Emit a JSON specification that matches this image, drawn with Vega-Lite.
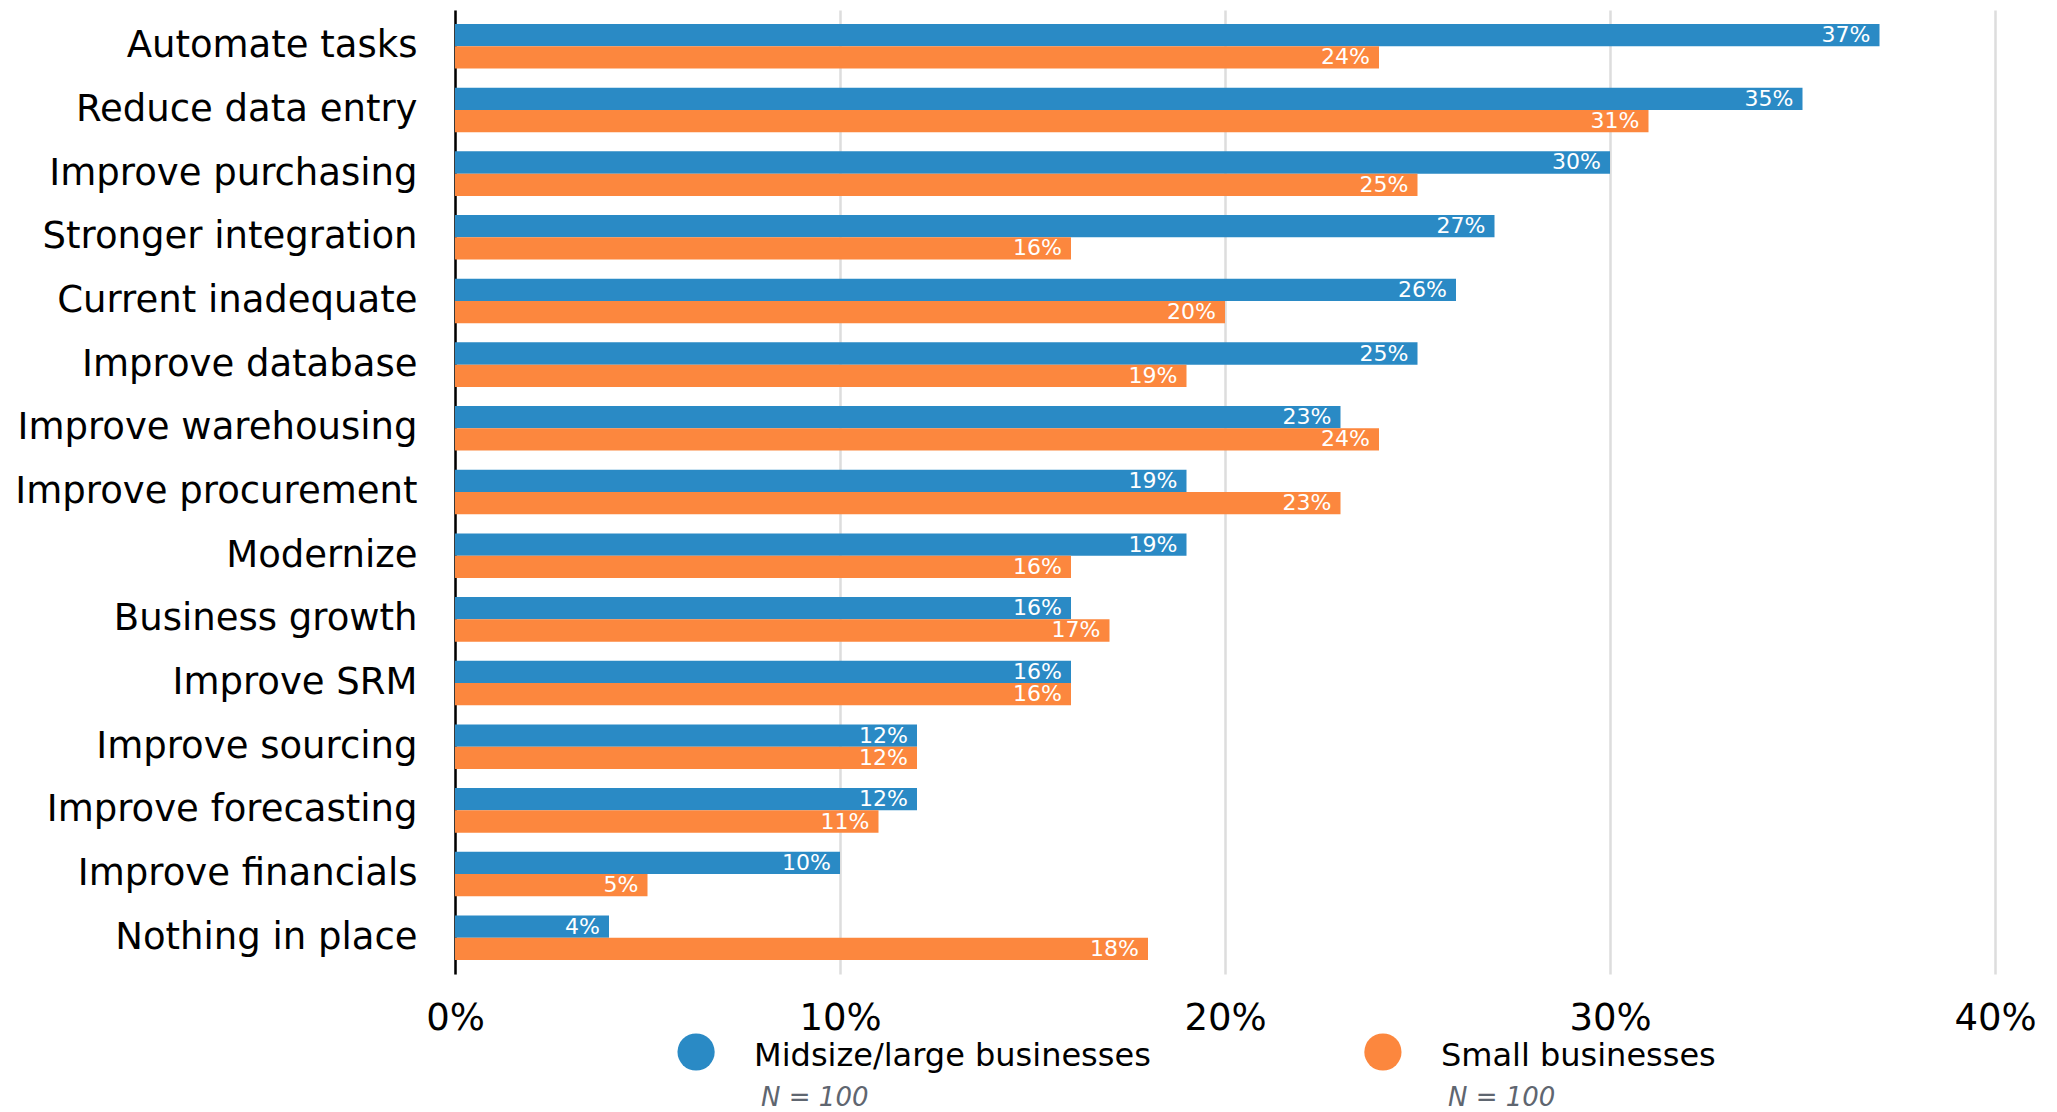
{
  "$schema": "https://vega.github.io/schema/vega-lite/v6.json",
  "padding": {"left": 14, "top": 10, "right": 10, "bottom": 0},
  "spacing": 38,
  "bounds": "flush",
  "config": {"view": {"stroke": null}, "font": "DejaVu Sans"},
  "datasets": {
    "bars": [
      {"reason": "Automate tasks", "group": "Midsize/large businesses", "value": 0.37},
      {"reason": "Automate tasks", "group": "Small businesses", "value": 0.24},
      {"reason": "Reduce data entry", "group": "Midsize/large businesses", "value": 0.35},
      {"reason": "Reduce data entry", "group": "Small businesses", "value": 0.31},
      {"reason": "Improve purchasing", "group": "Midsize/large businesses", "value": 0.30},
      {"reason": "Improve purchasing", "group": "Small businesses", "value": 0.25},
      {"reason": "Stronger integration", "group": "Midsize/large businesses", "value": 0.27},
      {"reason": "Stronger integration", "group": "Small businesses", "value": 0.16},
      {"reason": "Current inadequate", "group": "Midsize/large businesses", "value": 0.26},
      {"reason": "Current inadequate", "group": "Small businesses", "value": 0.20},
      {"reason": "Improve database", "group": "Midsize/large businesses", "value": 0.25},
      {"reason": "Improve database", "group": "Small businesses", "value": 0.19},
      {"reason": "Improve warehousing", "group": "Midsize/large businesses", "value": 0.23},
      {"reason": "Improve warehousing", "group": "Small businesses", "value": 0.24},
      {"reason": "Improve procurement", "group": "Midsize/large businesses", "value": 0.19},
      {"reason": "Improve procurement", "group": "Small businesses", "value": 0.23},
      {"reason": "Modernize", "group": "Midsize/large businesses", "value": 0.19},
      {"reason": "Modernize", "group": "Small businesses", "value": 0.16},
      {"reason": "Business growth", "group": "Midsize/large businesses", "value": 0.16},
      {"reason": "Business growth", "group": "Small businesses", "value": 0.17},
      {"reason": "Improve SRM", "group": "Midsize/large businesses", "value": 0.16},
      {"reason": "Improve SRM", "group": "Small businesses", "value": 0.16},
      {"reason": "Improve sourcing", "group": "Midsize/large businesses", "value": 0.12},
      {"reason": "Improve sourcing", "group": "Small businesses", "value": 0.12},
      {"reason": "Improve forecasting", "group": "Midsize/large businesses", "value": 0.12},
      {"reason": "Improve forecasting", "group": "Small businesses", "value": 0.11},
      {"reason": "Improve financials", "group": "Midsize/large businesses", "value": 0.10},
      {"reason": "Improve financials", "group": "Small businesses", "value": 0.05},
      {"reason": "Nothing in place", "group": "Midsize/large businesses", "value": 0.04},
      {"reason": "Nothing in place", "group": "Small businesses", "value": 0.18}
    ],
    "legend": [
      {"group": "Midsize/large businesses", "n": "N = 100"},
      {"group": "Small businesses", "n": "N = 100"}
    ]
  },
  "vconcat": [
    {
      "width": 1540,
      "height": 964,
      "data": {"name": "bars"},
      "encoding": {
        "y": {
          "field": "reason",
          "type": "nominal",
          "sort": null,
          "scale": {"paddingInner": 0.3, "paddingOuter": 0.22},
          "axis": {
            "title": null,
            "domainColor": "#000000",
            "domainWidth": 2.5,
            "ticks": false,
            "labelPadding": 38,
            "labelFontSize": 37,
            "labelColor": "#000000",
            "labelLimit": 0,
            "grid": false
          }
        },
        "yOffset": {
          "field": "group",
          "type": "nominal",
          "sort": ["Midsize/large businesses", "Small businesses"]
        },
        "x": {
          "field": "value",
          "type": "quantitative",
          "scale": {"domain": [0, 0.4], "nice": false, "zero": true},
          "axis": {
            "title": null,
            "format": ".0%",
            "values": [0, 0.1, 0.2, 0.3, 0.4],
            "domain": false,
            "ticks": false,
            "labelFlush": false,
            "labelOverlap": false,
            "labelPadding": 26,
            "labelFontSize": 37,
            "labelColor": "#000000",
            "grid": true,
            "gridColor": "#dddddd",
            "gridWidth": 2.5
          }
        },
        "color": {
          "field": "group",
          "type": "nominal",
          "scale": {"domain": ["Midsize/large businesses", "Small businesses"], "range": ["#2a8ac5", "#fc873e"]},
          "legend": null
        }
      },
      "layer": [
        {"mark": {"type": "bar"}},
        {
          "mark": {"type": "text", "align": "right", "baseline": "middle", "dx": -9, "fontSize": 22, "color": "#ffffff"},
          "encoding": {
            "text": {"field": "value", "type": "quantitative", "format": ".0%"},
            "color": {"value": "#ffffff"}
          }
        }
      ]
    },
    {
      "width": 1169,
      "height": 80,
      "data": {"name": "legend"},
      "encoding": {
        "x": {
          "field": "group",
          "type": "nominal",
          "scale": {"type": "point", "padding": 0.351},
          "axis": null
        }
      },
      "layer": [
        {
          "mark": {"type": "point", "filled": true, "shape": "circle", "size": 1385, "opacity": 1},
          "encoding": {
            "color": {
              "field": "group",
              "type": "nominal",
              "scale": {"domain": ["Midsize/large businesses", "Small businesses"], "range": ["#2a8ac5", "#fc873e"]},
              "legend": null
            }
          }
        },
        {
          "mark": {"type": "text", "align": "left", "baseline": "middle", "dx": 58, "dy": 4, "fontSize": 32, "color": "#000000"},
          "encoding": {"text": {"field": "group", "type": "nominal"}}
        },
        {
          "mark": {"type": "text", "align": "left", "baseline": "middle", "dx": 65, "dy": 46, "fontSize": 26, "fontStyle": "italic", "color": "#5f6670"},
          "encoding": {"text": {"field": "n", "type": "nominal"}}
        }
      ]
    }
  ]
}
